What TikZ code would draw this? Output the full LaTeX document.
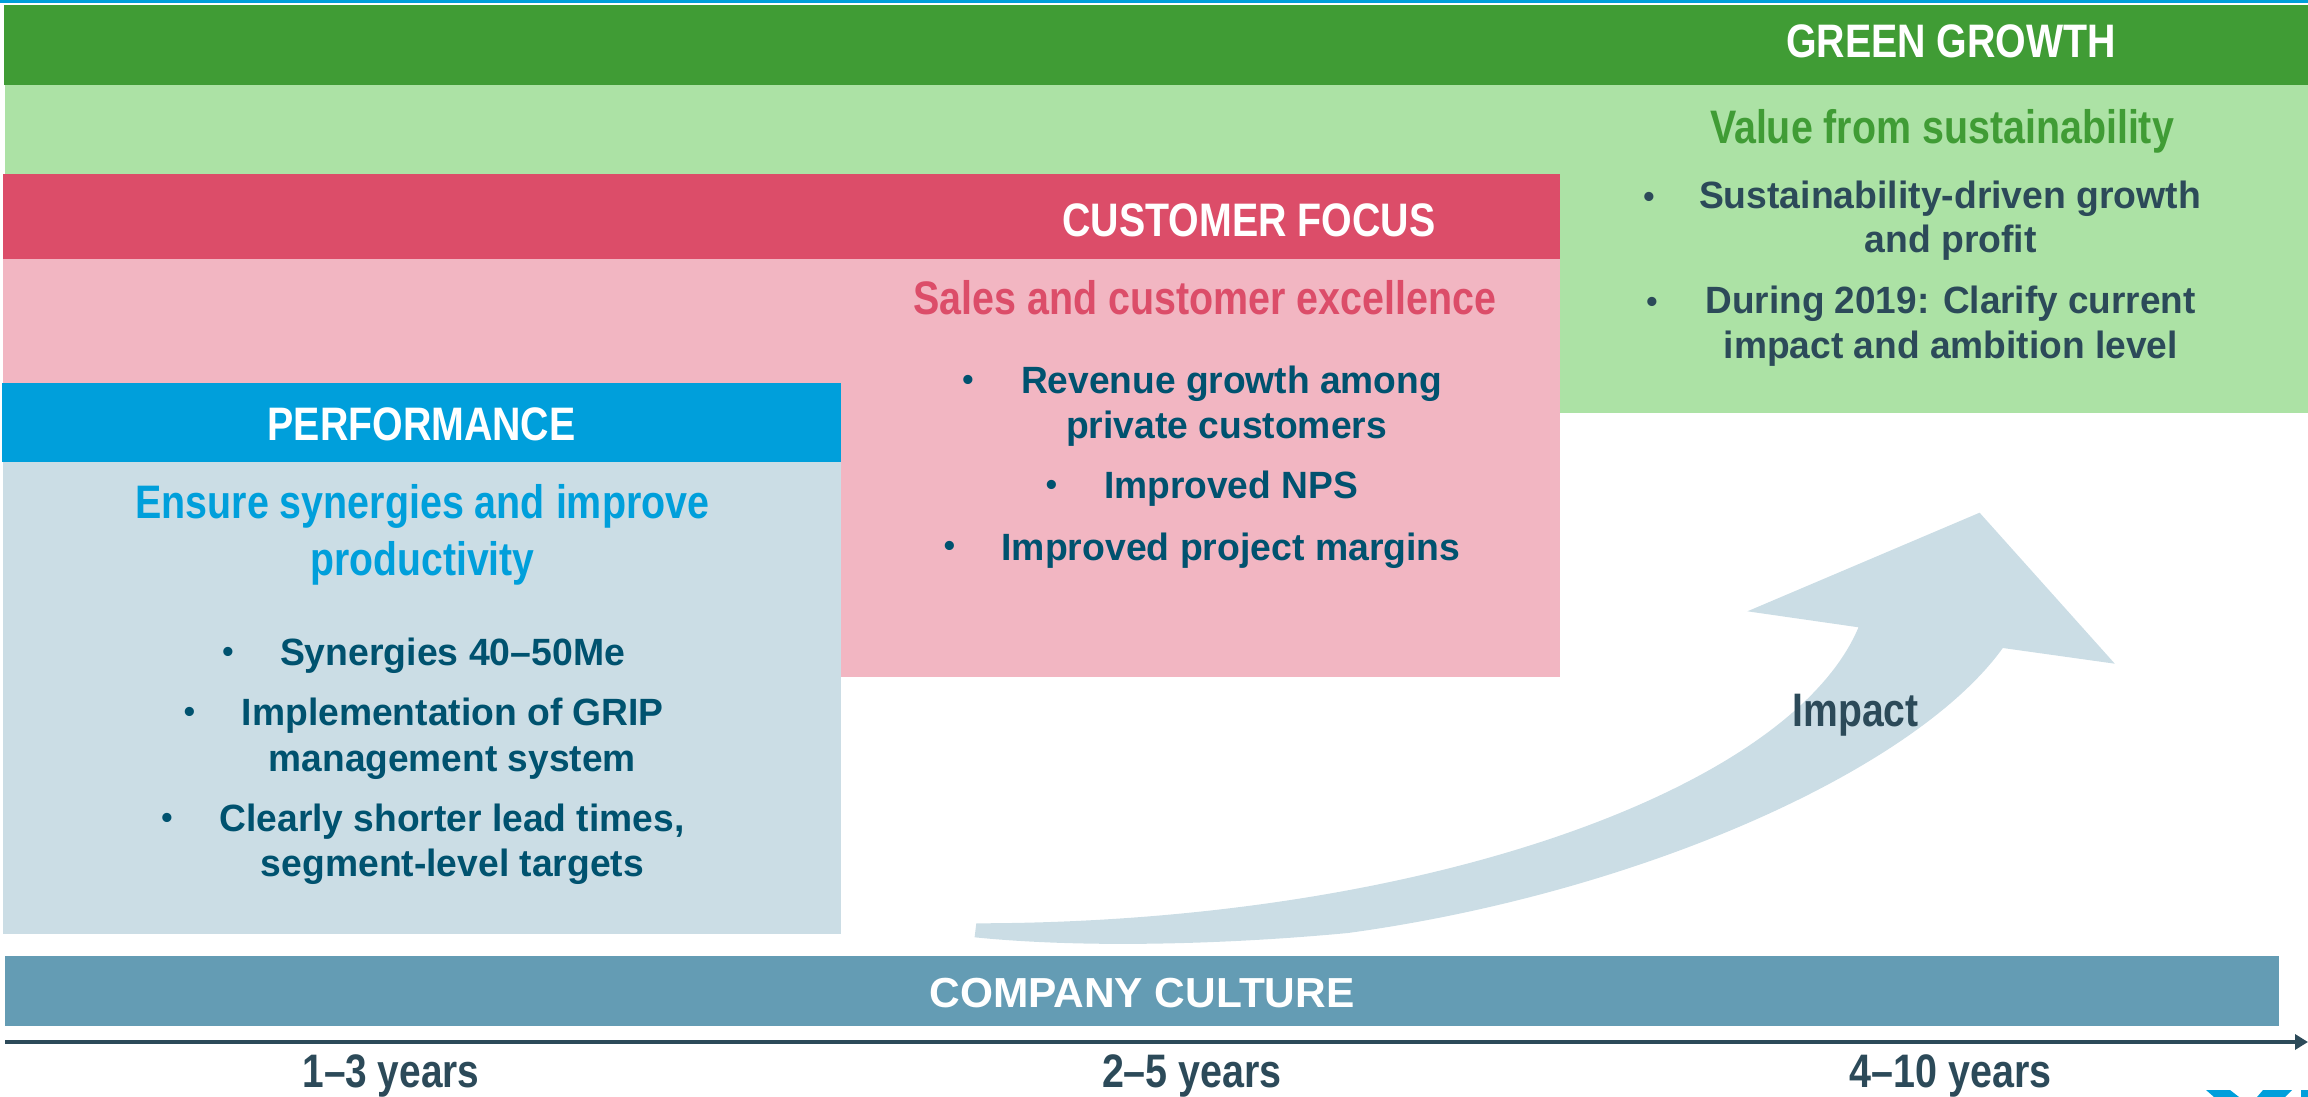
\documentclass[tikz,border=0pt]{standalone}
\usepackage{fontspec}
\usepackage{graphicx}
\setmainfont{Liberation Sans}[BoldFont={Liberation Sans Bold}]
\usetikzlibrary{arrows.meta}
\definecolor{dgreen}{HTML}{409C35}
\definecolor{lgreen}{HTML}{ACE2A5}
\definecolor{dred}{HTML}{DC4D69}
\definecolor{lred}{HTML}{F2B6C2}
\definecolor{dblue}{HTML}{009FDB}
\definecolor{lblue}{HTML}{CBDDE5}
\definecolor{culture}{HTML}{649CB4}
\definecolor{inkdark}{HTML}{2C4A59}
\definecolor{inkteal}{HTML}{00526F}
\newcommand{\fitw}[2]{\resizebox{#1\dimexpr 0.5pt\relax}{\height}{#2}}
\tikzset{
  txt/.style={anchor=base,inner sep=0pt,outer sep=0pt,font=\bfseries},
  hd/.style={txt,text=white,font=\fontsize{23.5pt}{26pt}\bfseries},
  sub/.style={txt,font=\fontsize{23.5pt}{26pt}\bfseries},
  body/.style={txt,font=\fontsize{19pt}{22pt}\bfseries},
  yr/.style={txt,text=inkdark,font=\fontsize{23.5pt}{26pt}\bfseries},
  blt/.style={txt,font=\fontsize{16pt}{22pt}\bfseries},
}
\begin{document}
\begin{tikzpicture}[x=0.5pt,y=-0.5pt]
\useasboundingbox (0,0) rectangle (2308,1097);
% top line
\fill[dblue] (0,0) rectangle (2308,3);
% green block
\fill[lgreen] (5,85) rectangle (2308,413);
\fill[dgreen] (3.5,5) rectangle (2308,85);
% red block
\fill[lred] (3,259) rectangle (1560,677);
\fill[dred] (3,174) rectangle (1560,259);
% blue block
\fill[lblue] (2.5,462) rectangle (841,934);
\fill[dblue] (2,382.5) rectangle (841,462);
% impact arrow
\fill[lblue] (1979.6,512.7) -- (1747.4,611.3) -- (1858.5,627.3)
  .. controls (1790,790) and (1420,923) .. (976.3,923.3)
  -- (974.6,937.3)
  .. controls (1080,948) and (1220,945) .. (1348,933)
  .. controls (1640,893) and (1915,770) .. (2002.8,648)
  -- (2114.8,663.7) -- cycle;
% culture bar
\fill[culture] (5,956) rectangle (2279,1026);
% axis
\coordinate (axstart) at (5,1042);
\coordinate (axend) at (2308,1042);
\draw[inkdark,line width=1.75pt,-{Triangle[length=6.5pt,width=7.5pt]}] (axstart) -- (axend);
% logo fragment
\fill[dblue] (2206,1090) -- (2230,1090) -- (2239,1097) -- (2214,1097) -- cycle;
\fill[dblue] (2263,1090) -- (2292,1090) -- (2285,1097) -- (2257,1097) -- cycle;
\fill[dblue] (2301,1090) rectangle (2308,1097);
% green text
\node[hd] (gh) at (1951,58) {\fitw{330}{GREEN GROWTH}};
\node[sub,text=dgreen] (gs) at (1942,143) {\fitw{464}{Value from sustainability}};
\node[body,text=inkdark] (g1) at (1950,208) {\fitw{502}{Sustainability-driven growth}};
\node[body,text=inkdark] (g2) at (1950.7,252) {\fitw{172}{and profit}};
\node[body,text=inkdark] (g3) at (1950.6,313) {\fitw{490}{During 2019: Clarify current}};
\node[body,text=inkdark] (g4) at (1950.7,358) {\fitw{454}{impact and ambition level}};
\node[blt,text=inkdark] (gb1) at (1649,207) {•};
\node[blt,text=inkdark] (gb2) at (1652,312) {•};
% red text
\node[hd] (rh) at (1249,236) {\fitw{373}{CUSTOMER FOCUS}};
\node[sub,text=dred] (rs) at (1205,314) {\fitw{583}{Sales and customer excellence}};
\node[body,text=inkteal] (r1) at (1231.5,393) {\fitw{421}{Revenue growth among}};
\node[body,text=inkteal] (r2) at (1226.6,438.5) {\fitw{321}{private customers}};
\node[body,text=inkteal] (r3) at (1231,498.5) {\fitw{254}{Improved NPS}};
\node[body,text=inkteal] (r4) at (1231,560) {\fitw{459}{Improved project margins}};
\node[blt,text=inkteal] (rb1) at (968,390) {•};
\node[blt,text=inkteal] (rb2) at (1051.5,495) {•};
\node[blt,text=inkteal] (rb3) at (949.5,556) {•};
% blue text
\node[hd] (bh) at (421.6,440) {\fitw{308}{PERFORMANCE}};
\node[sub,text=dblue] (bs1) at (422.4,518.5) {\fitw{574}{Ensure synergies and improve}};
\node[sub,text=dblue] (bs2) at (422.6,575.5) {\fitw{224}{productivity}};
\node[body,text=inkteal] (b1) at (452.5,665.5) {\fitw{345}{Synergies 40–50Me}};
\node[body,text=inkteal] (b2) at (452.8,725.5) {\fitw{422}{Implementation of GRIP}};
\node[body,text=inkteal] (b3) at (452.3,771) {\fitw{367}{management system}};
\node[body,text=inkteal] (b4) at (452,831.5) {\fitw{465}{Clearly shorter lead times,}};
\node[body,text=inkteal] (b5) at (452.5,876) {\fitw{383}{segment-level targets}};
\node[blt,text=inkteal] (bb1) at (228,662) {•};
\node[blt,text=inkteal] (bb2) at (189.5,722) {•};
\node[blt,text=inkteal] (bb3) at (167,828) {•};
% impact, culture, years
\node[yr] (imp) at (1855.6,726) {\fitw{126}{Impact}};
\node[hd,font=\fontsize{21pt}{24pt}\bfseries] (cc) at (1142,1007) {\fitw{425}{COMPANY CULTURE}};
\node[yr] (y1) at (391,1087) {\fitw{177}{1–3 years}};
\node[yr] (y2) at (1192,1087) {\fitw{180}{2–5 years}};
\node[yr] (y3) at (1950.5,1087) {\fitw{202}{4–10 years}};
\end{tikzpicture}
\end{document}
